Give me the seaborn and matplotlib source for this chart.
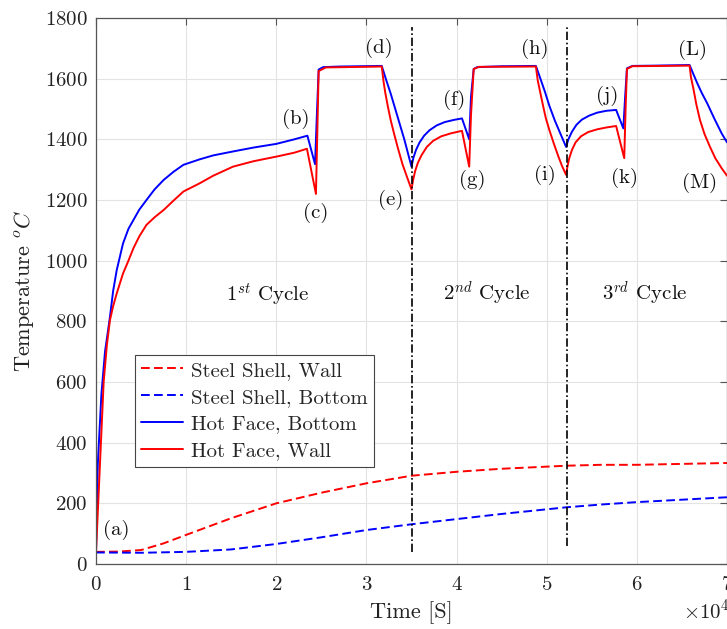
import matplotlib
matplotlib.use("Agg")
import matplotlib.pyplot as plt
import seaborn as sns

# ---- data: time in seconds, temperature in degC ----
hf_bottom_t = [0, 200, 600, 1000, 1550, 1900, 2300, 3000, 3600, 4150, 4800,
               5600, 6500, 7500, 8600, 9700, 11500, 13000, 15200, 17500,
               20000, 22000, 23450, 24300, 24500, 24700, 25200, 27000,
               31700, 32200, 32700, 33200, 33700, 34200, 34600, 35000,
               35200, 35500, 35900, 36400, 37000, 37800, 38700, 39700,
               40600, 41400, 41600, 41900, 42300, 45000, 48800, 49300,
               49800, 50300, 50900, 51500, 52150, 52400, 52800, 53300,
               53900, 54700, 55600, 56600, 57700, 58500, 58700, 58900,
               59500, 62000, 65850, 66200, 66700, 67200, 67800, 68600,
               69400, 70000]
hf_bottom_T = [40, 330, 560, 700, 815, 900, 969, 1057, 1105, 1134, 1168,
               1200, 1235, 1266, 1293, 1316, 1334, 1347, 1360, 1373,
               1385, 1400, 1412, 1318, 1480, 1630, 1638, 1640,
               1642, 1595, 1550, 1500, 1450, 1400, 1355, 1310,
               1338, 1365, 1390, 1412, 1430, 1446, 1457, 1464,
               1469, 1400, 1540, 1632, 1638, 1641, 1642, 1600,
               1557, 1510, 1462, 1420, 1375, 1400, 1425, 1448,
               1465, 1478, 1488, 1494, 1497, 1436, 1540, 1634,
               1642, 1643, 1645, 1620, 1585, 1553, 1519, 1468,
               1420, 1390]

hf_wall_t = [0, 850, 1200, 1550, 1900, 2300, 3000, 3600, 4150, 4800, 5600,
             6500, 7500, 8600, 9700, 11500, 13000, 15200, 17500, 20000,
             22000, 23400, 24400, 24550, 24700, 25500, 31700, 31900, 32100,
             32400, 32700, 33100, 33500, 34000, 34500, 35000, 35150, 35400,
             35700, 36100, 36700, 37400, 38300, 39400, 40600, 41400, 41600,
             41900, 42500, 48800, 49000, 49300, 49600, 49900, 50300, 50800,
             51300, 51700, 52150, 52300, 52500, 52800, 53200, 53800, 54600,
             55600, 56600, 57700, 58600, 58750, 58900, 59500, 65850, 66000,
             66300, 66600, 67000, 67500, 68100, 68700, 69400, 70000]
hf_wall_T = [40, 600, 720, 804, 850, 892, 958, 1000, 1041, 1080, 1118,
             1143, 1167, 1198, 1228, 1255, 1280, 1310, 1328, 1343,
             1356, 1369, 1220, 1420, 1625, 1637, 1640, 1590, 1552,
             1505, 1462, 1415, 1370, 1318, 1276, 1235, 1262, 1295,
             1322, 1347, 1375, 1395, 1410, 1420, 1428, 1310, 1480,
             1632, 1639, 1640, 1595, 1552, 1510, 1470, 1430, 1385,
             1343, 1312, 1283, 1310, 1338, 1365, 1390, 1410, 1424,
             1433, 1439, 1444, 1338, 1500, 1632, 1641, 1643, 1605,
             1563, 1515, 1464, 1418, 1376, 1338, 1305, 1280]

shell_wall_t = [0, 2500, 5000, 7500, 10000, 15000, 20000, 25000, 30000, 35000,
                40000, 45000, 52200, 56000, 60000, 65000, 70000]
shell_wall_T = [40, 41, 46, 68, 96, 151, 200, 235, 266, 291, 304, 314, 324,
                327, 327, 330, 333]

shell_bottom_t = [0, 5000, 10000, 15000, 20000, 25000, 30000, 35000, 40000,
                  45000, 52200, 56000, 60000, 65000, 70000]
shell_bottom_T = [38, 37, 40, 48, 66, 88, 112, 131, 148, 165, 187, 196, 204,
                  212, 220]

cycle_bounds = [35000, 52250]
cycle_line_lo = [40, 60]
cycle_line_hi = [1770, 1770]

point_labels = ["(a)", "(b)", "(c)", "(d)", "(e)", "(f)", "(g)", "(h)", "(i)",
                "(j)", "(k)", "(L)", "(M)"]
point_t = [2200, 22200, 24400, 31400, 32700, 39700, 41700, 48700, 49800,
           56700, 58600, 66200, 67000]
point_T = [112, 1467, 1157, 1701, 1200, 1530, 1266, 1697, 1283, 1543, 1272,
           1695, 1257]

cycle_labels = ["1$^{st}$ Cycle", "2$^{nd}$ Cycle", "3$^{rd}$ Cycle"]
cycle_label_t = [19000, 43400, 60900]
cycle_label_T = [887, 892, 892]

# ---- style ----
sns.set_style("white")
plt.rcParams["font.family"] = ["cmr10", "DejaVu Serif"]
plt.rcParams["mathtext.fontset"] = "cm"
plt.rcParams["axes.formatter.use_mathtext"] = True
plt.rcParams["lines.dashed_pattern"] = [4.5, 2.2]
plt.rcParams["lines.dashdot_pattern"] = [5, 1.6, 1, 1.6]

fig = plt.figure(figsize=(7.27, 6.29), dpi=100)
ax = fig.add_axes([96 / 727, 65 / 629, 631 / 727, 546 / 629])

lw = 1.4
sns.lineplot(x=shell_wall_t, y=shell_wall_T, ax=ax, color="#ff0000",
             linestyle="--", lw=lw, label="Steel Shell, Wall",
             estimator=None, sort=False)
sns.lineplot(x=shell_bottom_t, y=shell_bottom_T, ax=ax, color="#0000ff",
             linestyle="--", lw=lw, label="Steel Shell, Bottom",
             estimator=None, sort=False)
sns.lineplot(x=hf_bottom_t, y=hf_bottom_T, ax=ax, color="#0000ff",
             linestyle="-", lw=lw, label="Hot Face, Bottom",
             estimator=None, sort=False)
sns.lineplot(x=hf_wall_t, y=hf_wall_T, ax=ax, color="#ff0000",
             linestyle="-", lw=lw, label="Hot Face, Wall",
             estimator=None, sort=False)

# cycle boundaries
for xb, lo, hi in zip(cycle_bounds, cycle_line_lo, cycle_line_hi):
    ax.plot([xb, xb], [lo, hi], color="black", linestyle="-.", lw=1.2)

for lab, t, T in zip(point_labels, point_t, point_T):
    ax.text(t, T, lab, ha="center", va="center", fontsize=15, color="#111111")
for lab, t, T in zip(cycle_labels, cycle_label_t, cycle_label_T):
    ax.text(t, T, lab, ha="center", va="center", fontsize=15, color="#111111")

# ---- axes ----
ax.set_xlim(0, 70000)
ax.set_ylim(0, 1800)
ax.set_xticks(range(0, 70001, 10000))
ax.set_yticks(range(0, 1801, 200))
ax.ticklabel_format(style="sci", axis="x", scilimits=(0, 0))
ax.grid(True, color="#e3e3e3", lw=0.8)
ax.set_axisbelow(True)
for s in ax.spines.values():
    s.set_color("#555555")
    s.set_linewidth(0.9)
ax.tick_params(direction="in", top=True, right=True, length=5, width=0.8,
               color="#555555", labelsize=15, labelcolor="#222222")
ax.tick_params(axis="x", pad=9)
ax.tick_params(axis="y", pad=6)
ax.set_xlabel("Time [S]", fontsize=16, color="#222222", labelpad=5)
ax.set_ylabel("Temperature $^oC$", fontsize=16, color="#222222", labelpad=6)

off = ax.xaxis.get_offset_text()
off.set_fontsize(15)
off.set_color("#222222")
off.set_horizontalalignment("left")
off.set_x(0.93)

leg = ax.legend(loc="upper left", bbox_to_anchor=(0.062, 0.383),
                borderaxespad=0, fancybox=False, framealpha=1,
                edgecolor="#444444", fontsize=15, handlelength=2.0,
                handletextpad=0.4, labelspacing=0.4, borderpad=0.3)
leg.get_frame().set_linewidth(0.8)

fig.savefig("out.png", dpi=100)
